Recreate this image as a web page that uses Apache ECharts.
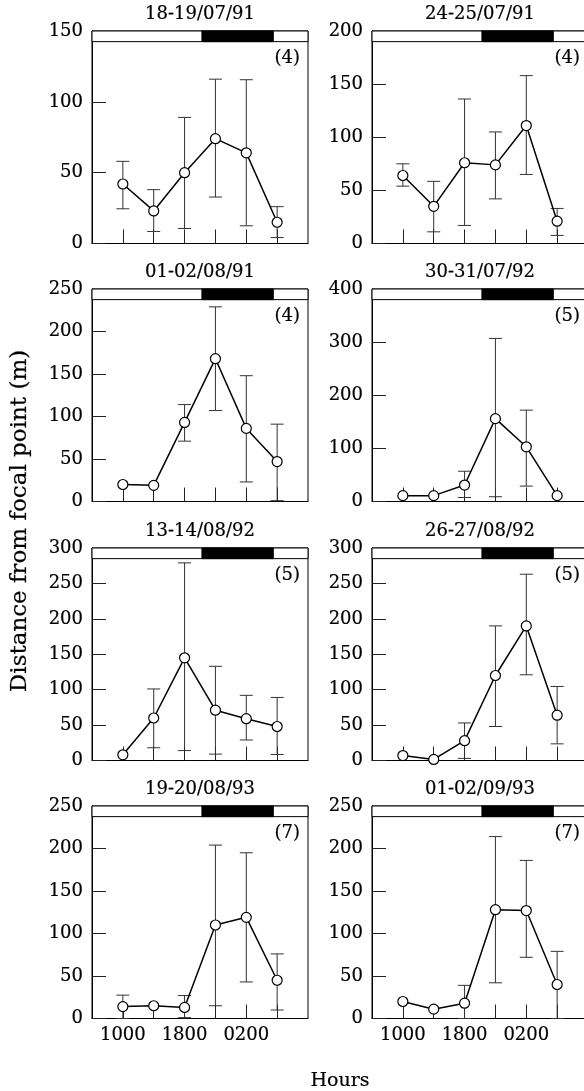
<!DOCTYPE html>
<html><head><meta charset="utf-8">
<script src="https://cdn.jsdelivr.net/npm/echarts@6/dist/echarts.min.js"></script>
<style>html,body{margin:0;padding:0;background:#fff}#c{width:584px;height:1091px}</style>
</head><body><div id="c"></div>
<script>
// ---- data ----
const hourCodes = ['1000', '1400', '1800', '2200', '0200', '0600'];
const xPos = [1, 2, 3, 4, 5, 6];
const labelledTicks = [1, 3, 5];
const nightHours = [20.25, 29.5]; // dark period, hours from midnight of first day

const titles = ['18-19/07/91', '24-25/07/91', '01-02/08/91', '30-31/07/92',
                '13-14/08/92', '26-27/08/92', '19-20/08/93', '01-02/09/93'];
const nCounts = [4, 4, 4, 5, 5, 5, 7, 7];
const yMax = [150, 200, 250, 400, 300, 300, 250, 250];
const yInterval = [50, 50, 50, 100, 50, 50, 50, 50];

const mean1 = [42, 23, 50, 74, 64, 15];
const low1  = [24.5, 8.5, 10.6, 32.8, 12.5, 4.2];
const high1 = [58, 38, 89, 116, 115.6, 26];

const mean2 = [64, 35, 76, 74, 111, 21];
const low2  = [54, 11, 17, 42, 65, 7.6];
const high2 = [75, 58.5, 136, 105, 158, 33];

const mean3 = [20, 19, 93, 168, 86, 47];
const low3  = [null, null, 71, 107, 23, 1];
const high3 = [null, null, 114, 229, 148, 91];

const mean4 = [11, 11, 31, 156, 103, 11];
const low4  = [null, null, 7.5, 9, 29, null];
const high4 = [null, null, 57, 307, 172, null];

const mean5 = [8, 60, 145, 71, 59, 48];
const low5  = [null, 18, 14, 9, 29, 8.5];
const high5 = [null, 101, 279, 133, 92, 89];

const mean6 = [7, 1.5, 28, 120, 190, 64];
const low6  = [null, null, 3, 48, 121, 23.5];
const high6 = [null, null, 53, 190, 263, 104.5];

const mean7 = [14, 15, 13, 110, 119, 45];
const low7  = [0, null, 1, 15, 43, 10];
const high7 = [27.5, null, 27, 204, 195, 76];

const mean8 = [20, 11, 18, 128, 127, 40];
const low8  = [null, null, 0, 42, 72, 0];
const high8 = [null, null, 39, 214, 186, 79];

const means = [mean1, mean2, mean3, mean4, mean5, mean6, mean7, mean8];
const lows = [low1, low2, low3, low4, low5, low6, low7, low8];
const highs = [high1, high2, high3, high4, high5, high6, high7, high8];

// ---- layout ----
const FONT = '"DejaVu Serif", serif';
const colLeft = [92, 372];
const rowTop = [31, 289, 548, 806];
const W = 216, H = 212.5;
const STRIP = 0.05;
const hourToX = h => 1 + (h - 10) / 4;
const SW = 0.2;
const TB = {textBorderColor: '#000', textBorderWidth: SW};

const grids = [], xAxes = [], yAxes = [], series = [], graphics = [];
for (let i = 0; i < 8; i++) {
  const r = Math.floor(i / 2), c = i % 2;
  const left = colLeft[c], top = rowTop[r];
  grids.push({left: left, top: top, width: W, height: H, show: true,
    borderColor: '#000', borderWidth: 1, backgroundColor: 'transparent',
    containLabel: false, outerBoundsMode: 'none'});
  xAxes.push({gridIndex: i, type: 'value', min: 0, max: 7, interval: 1,
    axisLine: {show: true, onZero: false, lineStyle: {color: '#000', width: 1}},
    axisTick: {show: true, inside: true, length: 14, customValues: xPos,
      lineStyle: {color: '#222', width: 1}},
    axisLabel: Object.assign({show: r === 3, customValues: labelledTicks,
      formatter: v => (labelledTicks.indexOf(v) >= 0 ? hourCodes[v - 1] : ''),
      fontFamily: FONT, fontSize: 18, color: '#000', margin: 8}, TB),
    splitLine: {show: false}});
  yAxes.push({gridIndex: i, type: 'value', min: 0, max: yMax[i], interval: yInterval[i],
    axisLine: {show: true, onZero: false, lineStyle: {color: '#000', width: 1}},
    axisTick: {show: true, inside: true, length: 14, lineStyle: {color: '#222', width: 1}},
    axisLabel: Object.assign({fontFamily: FONT, fontSize: 18, color: '#000', margin: 9}, TB),
    splitLine: {show: false}});

  const ebData = [];
  xPos.forEach((x, j) => {
    if (lows[i][j] != null && highs[i][j] != null) ebData.push([x, lows[i][j], highs[i][j]]);
  });
  series.push({type: 'custom', xAxisIndex: i, yAxisIndex: i, z: 2, silent: true,
    encode: {x: 0, y: [1, 2]},
    renderItem: (params, api) => {
      const x = api.value(0), lo = api.value(1), hi = api.value(2);
      const pLo = api.coord([x, lo]), pHi = api.coord([x, hi]);
      const hw = 6.5;
      const st = {stroke: '#333', lineWidth: 1};
      return {type: 'group', children: [
        {type: 'line', shape: {x1: pLo[0], y1: pLo[1], x2: pHi[0], y2: pHi[1]}, style: st},
        {type: 'line', shape: {x1: pLo[0] - hw, y1: pLo[1], x2: pLo[0] + hw, y2: pLo[1]}, style: st},
        {type: 'line', shape: {x1: pHi[0] - hw, y1: pHi[1], x2: pHi[0] + hw, y2: pHi[1]}, style: st}
      ]};
    },
    data: ebData});

  const stripLo = yMax[i] * (1 - STRIP);
  series.push({type: 'line', xAxisIndex: i, yAxisIndex: i, z: 3,
    data: xPos.map((x, j) => [x, means[i][j]]),
    symbol: 'circle', symbolSize: 10, showAllSymbol: true,
    itemStyle: {color: '#fff', borderColor: '#000', borderWidth: 1.2},
    lineStyle: {color: '#000', width: 1.5},
    emphasis: {disabled: true},
    animation: false,
    markArea: {silent: true, label: {show: false},
      data: [
        [{xAxis: 0, yAxis: stripLo, itemStyle: {color: '#fff', borderColor: '#000', borderWidth: 1}},
         {xAxis: 7, yAxis: yMax[i]}],
        [{xAxis: hourToX(nightHours[0]), yAxis: stripLo, itemStyle: {color: '#000', borderColor: '#000', borderWidth: 1}},
         {xAxis: hourToX(nightHours[1]), yAxis: yMax[i]}]
      ]}});

  graphics.push({type: 'text', x: left + W / 2, y: top - 16.5, silent: true,
    style: {text: titles[i], font: '18px ' + FONT, fill: '#000', stroke: '#000', lineWidth: SW,
      textAlign: 'center', textVerticalAlign: 'middle'}});
  graphics.push({type: 'text', x: left + W - 8, y: top + 27, silent: true,
    style: {text: '(' + nCounts[i] + ')', font: '18px ' + FONT, fill: '#000', stroke: '#000', lineWidth: SW,
      textAlign: 'right', textVerticalAlign: 'middle'}});
}
graphics.push({type: 'text', x: 20, y: 521, rotation: Math.PI / 2, silent: true,
  style: {text: 'Distance from focal point (m)', font: '23px ' + FONT, fill: '#000', stroke: '#000', lineWidth: SW,
    textAlign: 'center', textVerticalAlign: 'middle'}});
graphics.push({type: 'text', x: 340, y: 1081, silent: true,
  style: {text: 'Hours', font: '19px ' + FONT, fill: '#000', stroke: '#000', lineWidth: SW,
    textAlign: 'center', textVerticalAlign: 'middle'}});

const chart = echarts.init(document.getElementById('c'), null, {renderer: 'canvas'});
chart.setOption({
  animation: false,
  backgroundColor: '#fff',
  grid: grids, xAxis: xAxes, yAxis: yAxes, series: series, graphic: graphics
});
</script></body></html>
